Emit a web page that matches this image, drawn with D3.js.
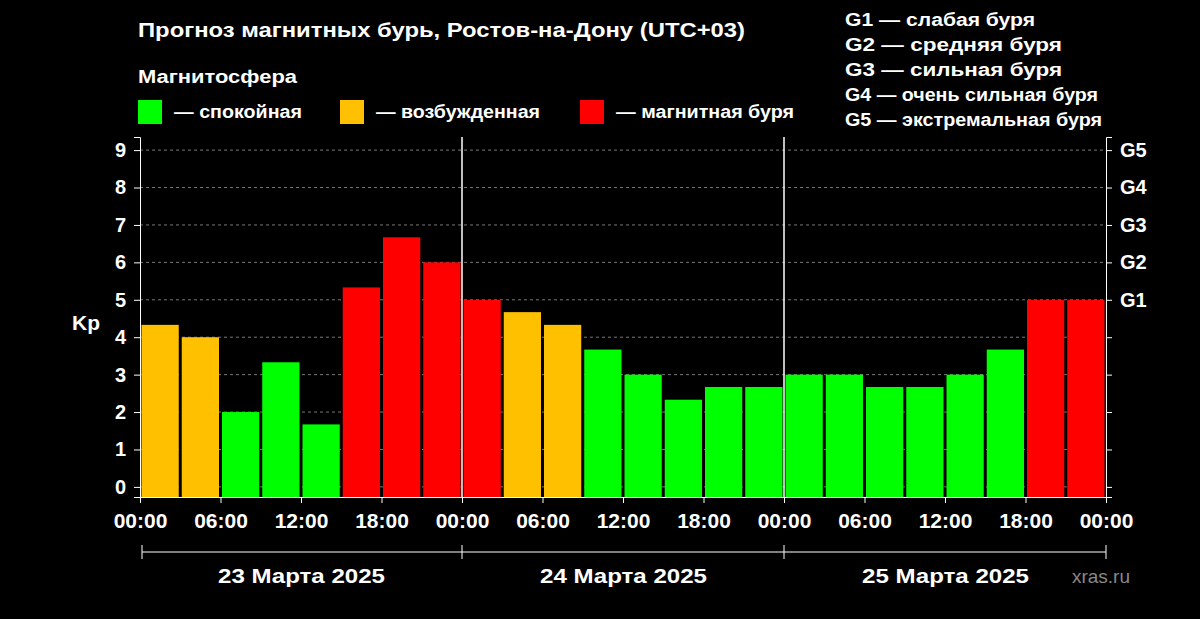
<!DOCTYPE html><html><head><meta charset="utf-8"><script src="https://cdn.jsdelivr.net/npm/d3@7"></script>
<style>body{margin:0;background:#000}text{font-family:"Liberation Sans",Arial,sans-serif;fill:#fff}</style></head><body>
<svg id="c" width="1200" height="619"></svg>
<script>
const kp=[4.33,4.0,2.0,3.33,1.67,5.33,6.67,6.0, 5.0,4.67,4.33,3.67,3.0,2.33,2.67,2.67, 3.0,3.0,2.67,2.67,3.0,3.67,5.0,5.0];
const levels=[0,1,2,3,4,5,6,7,8,9];
const gLabels=[{v:5,t:"G1"},{v:6,t:"G2"},{v:7,t:"G3"},{v:8,t:"G4"},{v:9,t:"G5"}];
const timeLabels=["00:00","06:00","12:00","18:00","00:00","06:00","12:00","18:00","00:00","06:00","12:00","18:00","00:00"];
const days=["23 Марта 2025","24 Марта 2025","25 Марта 2025"];
const legend=[{c:"#00ff00",t:"— спокойная"},{c:"#ffc000",t:"— возбужденная"},{c:"#ff0000",t:"— магнитная буря"}];
const gLegend=["G1 — слабая буря","G2 — средняя буря","G3 — сильная буря","G4 — очень сильная буря","G5 — экстремальная буря"];
const svg=d3.select("#c");
const L=140,R=1106,T=137,B=497;
const x=d3.scaleLinear().domain([0,24]).range([L,R]);
const y=d3.scaleLinear().domain([-0.27,9.35]).range([B,T]);
const col=v=>v>=5?"#ff0000":v>=4?"#ffc000":"#00ff00";
const fit=(s,w)=>s.attr("textLength",w).attr("lengthAdjust","spacingAndGlyphs");
fit(svg.append("text").attr("x",138).attr("y",37).attr("font-size",21).attr("font-weight","bold").text("Прогноз магнитных бурь, Ростов-на-Дону (UTC+03)"),607);
fit(svg.append("text").attr("x",138).attr("y",83).attr("font-size",18).attr("font-weight","bold").text("Магнитосфера"),159);
const lx=[138,340,580],lw=[128,164,178];
legend.forEach((d,i)=>{svg.append("rect").attr("x",lx[i]).attr("y",100).attr("width",24).attr("height",24).attr("fill",d.c);
fit(svg.append("text").attr("x",lx[i]+36).attr("y",118).attr("font-size",18).attr("font-weight","bold").text(d.t),lw[i]);});
const gw=[190,217,217,253,257];
gLegend.forEach((t,i)=>fit(svg.append("text").attr("x",845).attr("y",26+i*25).attr("font-size",18).attr("font-weight","bold").text(t),gw[i]));
svg.selectAll(".g").data(levels).join("line").attr("x1",L).attr("x2",R).attr("y1",d=>y(d)).attr("y2",d=>y(d)).attr("stroke","#777").attr("stroke-dasharray","3,3");
svg.selectAll(".b").data(kp).join("rect").attr("x",(d,i)=>x(i)+1.5).attr("width",x(1)-x(0)-3).attr("y",d=>y(d)).attr("height",d=>y(-0.27)-y(d)).attr("fill",col);
[8,16].forEach(h=>svg.append("line").attr("x1",x(h)).attr("x2",x(h)).attr("y1",T).attr("y2",B).attr("stroke","#fff").attr("stroke-width",1.5));
const ya=svg.append("g").attr("transform",`translate(${L},0)`).call(d3.axisLeft(y).tickValues(levels).tickSize(6).tickPadding(8));
const yr=svg.append("g").attr("transform",`translate(${R},0)`).call(d3.axisRight(y).tickValues(levels).tickSize(6).tickFormat(d=>{const g=gLabels.find(e=>e.v===d);return g?g.t:"";}).tickPadding(8));
const xa=svg.append("g").attr("transform",`translate(0,${B})`).call(d3.axisBottom(x).tickValues(d3.range(0,25,2)).tickFormat((d,i)=>timeLabels[i]).tickSize(6).tickPadding(10));
[ya,yr].forEach(a=>{a.selectAll("path,line").attr("stroke","#fff");a.selectAll("text").attr("fill","#fff").attr("font-size",20).attr("font-weight","bold").style("font-family","Liberation Sans, Arial, sans-serif");});
xa.selectAll("path,line").attr("stroke","#fff");
xa.selectAll("text").attr("fill","#fff").attr("font-size",21).attr("font-weight","bold").style("font-family","Liberation Sans, Arial, sans-serif");
svg.append("text").attr("x",72).attr("y",330).attr("font-size",21).attr("font-weight","bold").text("Kp");
svg.append("line").attr("x1",x(0)+2).attr("x2",R).attr("y1",552).attr("y2",552).attr("stroke","#fff");
[0,8,16,24].forEach(h=>svg.append("line").attr("x1",x(h)+(h===0?2:0)).attr("x2",x(h)+(h===0?2:0)).attr("y1",545).attr("y2",559).attr("stroke","#fff"));
days.forEach((t,i)=>fit(svg.append("text").attr("x",x(i*8+4)-83).attr("y",583).attr("font-size",21).attr("font-weight","bold").text(t),167));
fit(svg.append("text").attr("x",1085).attr("y",583).attr("font-size",19).style("fill","#888").text("xras.ru"),.1+0||0).attr("textLength",null).attr("x",1130).attr("text-anchor","end");
</script></body></html>
